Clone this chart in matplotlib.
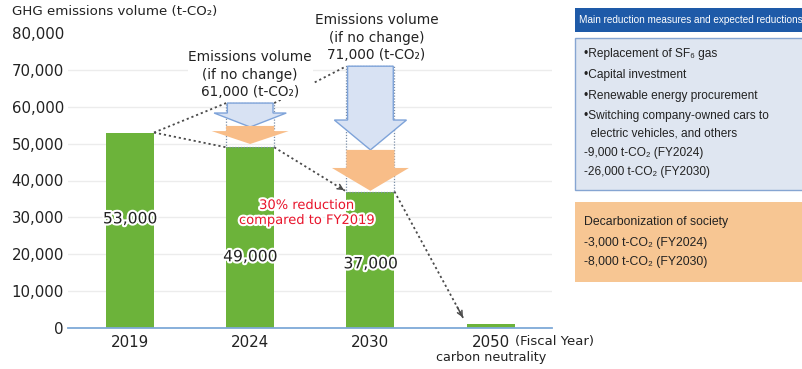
import matplotlib.pyplot as plt
import matplotlib.patheffects as pe
from matplotlib.patches import Polygon, Rectangle

# GHG emissions (t-CO2) by fiscal year
years = ['2019', '2024', '2030', '2050']
emissions = [53000, 49000, 37000, 1000]
no_change = [61000, 71000]          # FY2024, FY2030 if nothing is done
# arrow spans for FY2024 / FY2030: measures (blue) and decarbonization of society (orange)
blue_head = [58300, 56400]
blue_tip = [54500, 48300]
orange_top = [54800, 48300]
orange_head = [53400, 43400]
orange_tip = [49900, 37200]
yticks = [0, 10000, 20000, 30000, 40000, 50000, 60000, 70000, 80000]
label_y = [29600, 19300, 17400]

measures = ['•Replacement of SF₆ gas', '•Capital investment',
            '•Renewable energy procurement', '•Switching company-owned cars to',
            '  electric vehicles, and others', '-9,000 t-CO₂ (FY2024)',
            '-26,000 t-CO₂ (FY2030)']
society = ['Decarbonization of society', '-3,000 t-CO₂ (FY2024)',
           '-8,000 t-CO₂ (FY2030)']

W, H = 802, 369
plt.rcParams['font.family'] = ['DejaVu Sans']
narrow = ['Liberation Sans Narrow', 'Liberation Sans', 'DejaVu Sans']
green = '#6cb33a'
dark = '#222222'
dot = (0, (1.2, 1.6))


def px(x, y):
    return x / W, 1 - y / H


fig = plt.figure(figsize=(W / 100, H / 100), dpi=100)
ax = fig.add_axes([68 / W, 41 / H, 484 / W, 295 / H])
ax.set_xlim(-0.515, 3.51)
ax.set_ylim(0, 80000)

for v in yticks[1:-1]:
    ax.axhline(v, color='#ececec', lw=1, zorder=0)

xs = range(len(years))
ax.bar(xs, emissions, width=0.4, color=green, zorder=2)

for s in ['top', 'right', 'left']:
    ax.spines[s].set_visible(False)
ax.spines['bottom'].set_color('#7ea9d8')
ax.spines['bottom'].set_linewidth(1.3)
ax.spines['bottom'].set_zorder(3)

ax.set_yticks(yticks)
ax.set_yticklabels([f'{v:,}' for v in yticks])
ax.set_xticks(list(xs))
ax.set_xticklabels(years)
ax.tick_params(axis='y', length=0, pad=3, labelsize=10.8, labelcolor=dark)
ax.tick_params(axis='x', length=0, pad=5, labelsize=10.8, labelcolor=dark)

fig.text(*px(12, 12), 'GHG emissions volume (t-CO₂)', fontsize=9.6,
         color=dark, va='center', ha='left')
fig.text(*px(515, 341), '(Fiscal Year)', fontsize=9.5, color=dark,
         va='center', ha='left')
fig.text(*px(491, 358), 'carbon neutrality', fontsize=9.2, color=dark,
         va='center', ha='center')

# blue / orange reduction arrows and dotted outlines
for i, xc in enumerate([1, 2]):
    bar_top = emissions[xc]
    ax.add_patch(Rectangle((xc - 0.2, bar_top), 0.4, no_change[i] - bar_top,
                           fill=False, ec='#7b8fa8', lw=0.9, ls=(0, (1, 1.3)),
                           zorder=3))
    sw, hw = 0.19, 0.30
    ax.add_patch(Polygon([(xc - sw, no_change[i]), (xc + sw, no_change[i]),
                          (xc + sw, blue_head[i]), (xc + hw, blue_head[i]),
                          (xc, blue_tip[i]), (xc - hw, blue_head[i]),
                          (xc - sw, blue_head[i])],
                         closed=True, fc='#d8e2f3', ec='#7ea3d9', lw=1.0,
                         zorder=4))
    ow, ohw = 0.2, 0.32
    ax.add_patch(Polygon([(xc - ow, orange_top[i]), (xc + ow, orange_top[i]),
                          (xc + ow, orange_head[i]), (xc + ohw, orange_head[i]),
                          (xc, orange_tip[i]), (xc - ohw, orange_head[i]),
                          (xc - ow, orange_head[i])],
                         closed=True, fc='#f8bd88', ec='none', zorder=4))
    ax.annotate(f'Emissions volume\n(if no change)\n{no_change[i]:,} (t-CO₂)',
                xy=(xc + 0.05 * i, no_change[i]), xytext=(0, 3),
                textcoords='offset points', ha='center', va='bottom',
                fontsize=9.8, color=dark, linespacing=1.3, zorder=6,
                annotation_clip=False,
                bbox=dict(fc='white', ec='none', pad=0.5))

# dotted trend lines
segments = [((0.2, emissions[0]), (0.8, no_change[0]), False),
            ((1.2, no_change[0]), (1.8, no_change[1]), False),
            ((0.2, emissions[0]), (0.8, emissions[1]), False),
            ((1.2, emissions[1]), (1.8, emissions[2]), True),
            ((2.2, emissions[2]), (2.78, emissions[3] + 1200), True)]
for (x0, y0), (x1, y1), head in segments:
    ax.plot([x0, x1], [y0, y1], ls=dot, color='#4a4a4a', lw=1.3,
            zorder=5, clip_on=False)
    if head:
        ax.annotate('', xy=(x1, y1),
                    xytext=(x1 - 0.12 * (x1 - x0), y1 - 0.12 * (y1 - y0)),
                    arrowprops=dict(arrowstyle='->', color='#4a4a4a', lw=1.1,
                                    mutation_scale=9), zorder=5)

halo = [pe.withStroke(linewidth=3, foreground='white')]
for i in range(3):
    ax.text(i, label_y[i], f'{emissions[i]:,}', ha='center', va='center',
            fontsize=11.2, color=dark, path_effects=halo, zorder=6)

ax.text(1.47, 31200, '30% reduction\ncompared to FY2019', ha='center',
        va='center', fontsize=9.4, color='#e8142b', linespacing=1.2,
        path_effects=halo, zorder=6)

# right-hand panel
fig.patches.append(Rectangle(px(575, 32), 235 / W, 24 / H, fc='#1e5aa8',
                             ec='none', transform=fig.transFigure))
fig.text(*px(579, 20), 'Main reduction measures and expected reductions',
         family=narrow, fontsize=7.2, color='white', va='center', ha='left')

fig.patches.append(Rectangle(px(575, 190), 240 / W, 152 / H, fc='#dfe6f1',
                             ec='#86a5d2', lw=1.0, transform=fig.transFigure))
for line, yy in zip(measures, [54, 75, 96, 116, 134, 153, 172]):
    fig.text(*px(584, yy), line, family=narrow, fontsize=8.6, color=dark,
             va='center', ha='left')

fig.patches.append(Rectangle(px(575, 282), 240 / W, 80 / H, fc='#f7c693',
                             ec='none', transform=fig.transFigure))
for line, yy in zip(society, [222, 243, 262]):
    fig.text(*px(584, yy), line, family=narrow, fontsize=8.8, color=dark,
             va='center', ha='left')

fig.savefig('out.png', dpi=100, facecolor='white')
